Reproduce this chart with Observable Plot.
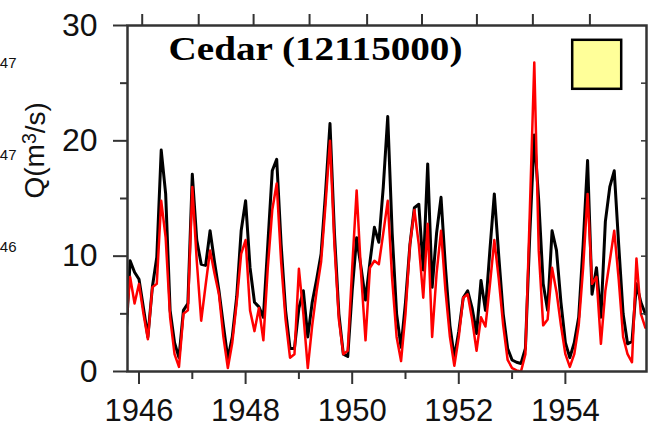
<!DOCTYPE html>
<html>
<head>
<meta charset="utf-8">
<script src="https://cdn.jsdelivr.net/npm/d3@7"></script>
<script src="https://cdn.jsdelivr.net/npm/@observablehq/plot@0.6"></script>
<style>
  html, body { margin: 0; padding: 0; background: #fff; }
</style>
</head>
<body>
<div id="chart"></div>
<script>
// Monthly discharge (m3/s), first value = end of Sep 1945, one value per month
const startYear = 1945.75;
const blackQ = [
  2.5, 9.6, 8.6, 8.0, 5.5, 3.0, 7.3, 9.9, 19.2, 15.4, 5.3, 2.5,
  1.2, 5.3, 5.9, 17.1, 11.4, 9.3, 9.2, 12.2, 9.5, 7.0, 4.0, 1.1,
  3.0, 6.5, 12.2, 14.8, 9.0, 6.0, 5.6, 4.7, 11.0, 17.4, 18.4, 11.0,
  5.3, 2.0, 2.0, 5.5, 7.0, 3.0, 6.0, 8.0, 10.2, 15.5, 21.5, 12.0,
  5.0, 1.5, 1.3, 7.0, 11.6, 9.0, 6.2, 9.5, 12.5, 11.2, 16.0, 22.1,
  12.0, 5.0, 2.1, 6.0, 11.0, 14.2, 14.5, 8.8, 18.0, 7.3, 12.0, 15.1,
  9.0, 4.0, 1.2, 3.5, 6.4, 7.0, 5.5, 3.3, 7.9, 5.3, 10.5, 15.4,
  10.0, 5.0, 2.0, 1.0, 0.8, 0.7, 2.0, 12.0, 20.5, 14.8, 7.6, 5.3,
  12.2, 10.5, 6.0, 2.5, 1.2, 2.5, 4.7, 11.0, 18.3, 6.7, 9.0, 4.7,
  13.0, 16.0, 17.4, 11.0, 5.0, 2.4, 2.6, 7.6, 6.0, 5.0
];
const redQ = [
  3.8, 8.2, 5.9, 7.6, 5.0, 2.8, 7.3, 7.6, 14.8, 11.6, 4.7, 1.5,
  0.4, 5.0, 5.3, 16.0, 9.6, 4.4, 7.5, 10.5, 8.5, 6.7, 3.0, 0.3,
  2.5, 6.0, 10.2, 11.4, 5.3, 3.5, 5.5, 2.7, 9.0, 14.0, 16.3, 9.5,
  4.5, 1.2, 1.5, 8.9, 5.0, 0.3, 4.0, 7.0, 9.5, 14.5, 20.0, 11.0,
  4.5, 1.5, 1.8, 9.0, 15.7, 8.5, 2.7, 9.0, 9.6, 9.3, 12.0, 14.8,
  8.0, 3.0, 0.9, 5.0, 11.0, 14.0, 11.0, 6.4, 12.8, 3.0, 8.5, 12.2,
  7.0, 3.0, 0.5, 3.0, 6.4, 6.7, 4.5, 1.8, 4.7, 3.9, 7.5, 11.4,
  8.0, 4.0, 1.0, 0.3, 0.1, 0.0, 1.5, 14.0, 26.8, 10.5, 4.0, 4.5,
  9.0, 6.9, 4.0, 1.5, 0.4, 1.5, 4.0, 9.0, 15.4, 7.6, 8.2, 2.4,
  7.0, 9.6, 12.2, 8.0, 3.0, 1.5, 0.8, 9.8, 5.0, 3.8
];

// Axis ticks and labels
const yMajor = [0, 10, 20, 30];
const yMinor = [5, 15, 25];
const xMajor = [1946, 1948, 1950, 1952, 1954];
const xMinor = [1947, 1949, 1951, 1953];
const topTicks = [1946.06, 1947.12, 1948.15, 1949.2, 1950.28, 1951.31, 1952.34, 1953.39, 1954.46];
const rightTicks = [5, 10, 15, 20, 25];
const title = "Cedar (12115000)";
const yLabelParts = ["Q(m", "3", "/s)"];
const fragLabels = ["47", "47", "46"];

const rows = blackQ.map((b, k) => ({ t: startYear + k / 12, black: b, red: redQ[k] }));

const axisColor = "#333";
const sans = "'Liberation Sans', Arial, Helvetica, sans-serif";
const blank = () => "";
const fragOffsets = [38, 130, 222];
const yLabelText = yLabelParts.join("");

const svg = Plot.plot({
  width: 650,
  height: 428,
  marginLeft: 127,
  marginRight: 4,
  marginTop: 25,
  marginBottom: 57,
  style: { fontFamily: sans, background: "#fff", overflow: "visible", color: "#111" },
  x: { domain: [1945.784, 1955.522] },
  y: { domain: [0, 30] },
  marks: [
    Plot.lineY(rows, { x: "t", y: "black", stroke: "#000", strokeWidth: 3, clip: true }),
    Plot.lineY(rows, { x: "t", y: "red", stroke: "#ff0000", strokeWidth: 2.5, clip: true }),
    Plot.frame({ stroke: axisColor, strokeWidth: 2.5 }),
    Plot.frame({ fill: "#ffff99", stroke: "#000", strokeWidth: 2.5,
                 insetLeft: 444.7, insetRight: 25.3, insetTop: 14.3, insetBottom: 282.7 }),
    Plot.axisY({ ticks: yMajor, tickSize: 14, tickPadding: 16, fontSize: 32, stroke: axisColor,
                 strokeWidth: 2, fill: "#111", label: null, tickFormat: d => String(d) }),
    Plot.axisY({ ticks: yMinor, tickSize: 7, stroke: axisColor, strokeWidth: 2, label: null, tickFormat: blank }),
    Plot.axisY({ anchor: "right", ticks: rightTicks, tickSize: 6, dx: -6, stroke: axisColor, strokeWidth: 1.5,
                 label: null, tickFormat: blank }),
    Plot.axisX({ ticks: xMajor, tickSize: 13, tickPadding: 14, fontSize: 31, stroke: axisColor,
                 strokeWidth: 2, fill: "#111", label: null, tickFormat: d => String(d) }),
    Plot.axisX({ ticks: xMinor, tickSize: 8, stroke: axisColor, strokeWidth: 2, label: null, tickFormat: blank }),
    Plot.axisX({ anchor: "top", ticks: topTicks, tickSize: 12, stroke: axisColor, strokeWidth: 2,
                 label: null, tickFormat: blank }),
    Plot.text([title], { text: d => d, frameAnchor: "top", dx: -71.5, dy: 24, lineAnchor: "middle",
                         fontSize: 34, fontWeight: "bold", fill: "#000",
                         fontFamily: "'Liberation Serif', 'Times New Roman', serif" }),
    Plot.text([yLabelText], { text: d => d, frameAnchor: "left", dx: -92, rotate: -90, fontSize: 28,
                          fill: "#111", lineAnchor: "middle" }),
    ...fragLabels.map((s, i) => Plot.text([s], { text: d => d, frameAnchor: "top-left", dx: -111,
                          dy: fragOffsets[i], textAnchor: "end", lineAnchor: "middle", fontSize: 15, fill: "#111" }))
  ]
});

const root = d3.select(svg);
root.selectAll("text")
  .filter(function () { return this.textContent === title; })
  .attr("textLength", 294)
  .attr("lengthAdjust", "spacingAndGlyphs");

// y label with a real superscript 3
root.selectAll("text")
  .filter(function () { return this.textContent === yLabelText; })
  .each(function () {
    const t = d3.select(this);
    t.text(null);
    t.append("tspan").text(yLabelParts[0]);
    t.append("tspan").attr("dy", "-0.45em").attr("font-size", "0.7em").text(yLabelParts[1]);
    t.append("tspan").attr("dy", "0.32em").text(yLabelParts[2]);
  });

document.getElementById("chart").appendChild(svg);
</script>
</body>
</html>
